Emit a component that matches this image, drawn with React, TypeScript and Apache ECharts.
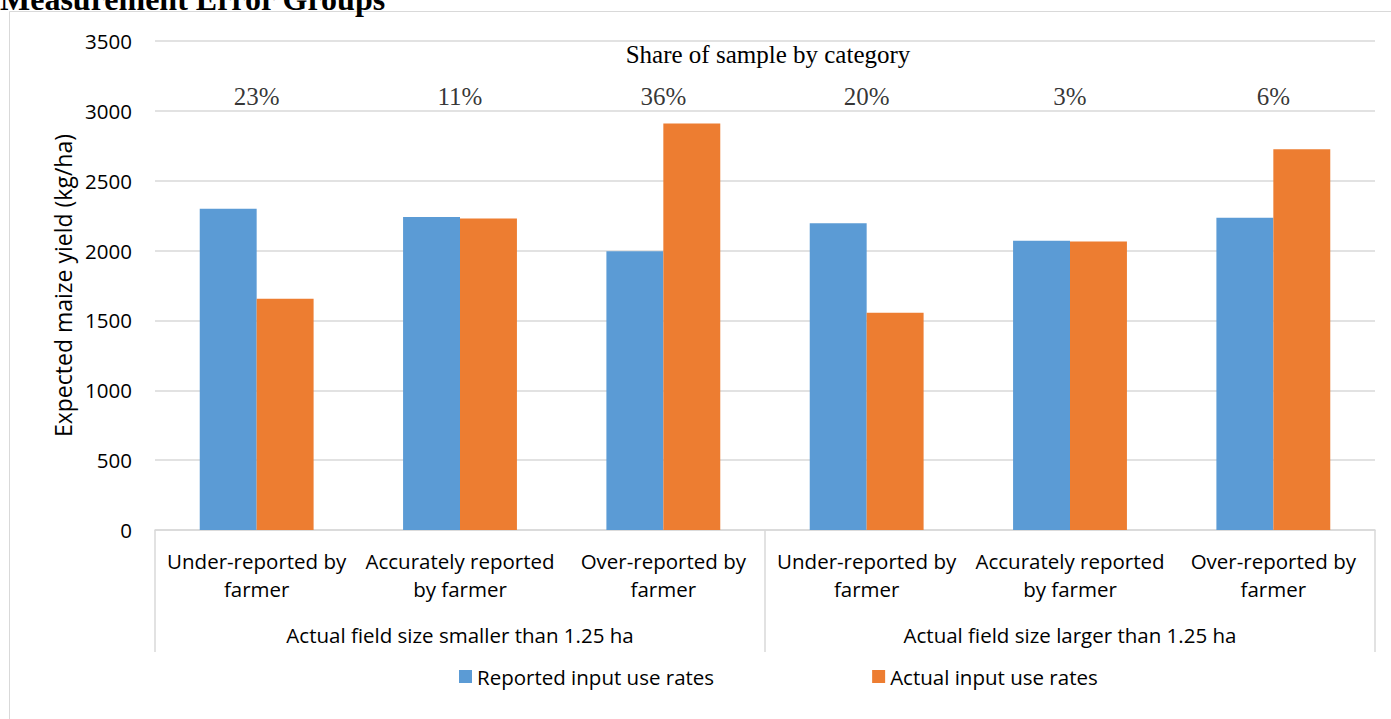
import React, { useEffect, useRef } from "react";
import * as echarts from "echarts";

const categories = [
  "Under-reported by\nfarmer",
  "Accurately reported\nby farmer",
  "Over-reported by\nfarmer",
  "Under-reported by\nfarmer",
  "Accurately reported\nby farmer",
  "Over-reported by\nfarmer",
];
const groups = [
  "Actual field size smaller than 1.25 ha",
  "Actual field size larger than 1.25 ha",
];
const reported = [2300, 2240, 1995, 2195, 2070, 2235];
const actual = [1655, 2230, 2910, 1555, 2065, 2725];
const shares = ["23%", "11%", "36%", "20%", "3%", "6%"];
const shareLevel = 3100;
const yTicks = { min: 0, max: 3500, interval: 500 };

const SANS = "'Open Sans', 'Liberation Sans', sans-serif";
const SERIF = "'Liberation Serif', 'DejaVu Serif', serif";

export default function App() {
  const ref = useRef<HTMLDivElement>(null);
  useEffect(() => {
    if (!ref.current) return;
    const chart = echarts.init(ref.current, undefined, { renderer: "svg" });
    chart.setOption({
      animation: false,
      backgroundColor: "#fff",
      grid: { left: 155, right: 16, top: 41, bottom: 189 },
      graphic: [
        {
          type: "rect",
          shape: { x: 9.5, y: 11.5, width: 1400, height: 720 },
          style: { fill: "none", stroke: "#d9d9d9", lineWidth: 1 },
          silent: true,
        },
        {
          type: "text",
          x: 0,
          y: 15,
          style: {
            text: "Measurement Error Groups",
            font: `bold 32px ${SERIF}`,
            fill: "#000",
            textVerticalAlign: "bottom",
          },
        },
        {
          type: "text",
          x: 768,
          y: 54,
          style: {
            text: "Share of sample by category",
            font: `25px ${SERIF}`,
            fill: "#000",
            textAlign: "center",
            textVerticalAlign: "middle",
          },
        },
      ],
      legend: {
        data: ["Reported input use rates", "Actual input use rates"],
        left: 454,
        top: 661,
        itemWidth: 13,
        itemHeight: 13,
        itemGap: 158,
        icon: "rect",
        textStyle: { fontFamily: SANS, fontSize: 20.5, color: "#000" },
      },
      xAxis: [
        {
          type: "category",
          data: categories,
          position: "bottom",
          axisLine: { show: true, lineStyle: { color: "#d9d9d9", width: 1.5 } },
          axisTick: { show: false },
          axisLabel: {
            fontFamily: SANS,
            fontSize: 20.5,
            color: "#000",
            lineHeight: 28,
            margin: 17,
            interval: 0,
          },
        },
        {
          type: "category",
          data: groups,
          position: "bottom",
          axisLine: { show: false },
          axisTick: { show: true, length: 122, lineStyle: { color: "#d9d9d9", width: 1.5 } },
          axisLabel: {
            fontFamily: SANS,
            fontSize: 20.5,
            color: "#000",
            lineHeight: 28,
            margin: 91,
            interval: 0,
          },
        },
      ],
      yAxis: {
        type: "value",
        min: yTicks.min,
        max: yTicks.max,
        interval: yTicks.interval,
        name: "Expected maize yield (kg/ha)",
        nameLocation: "middle",
        nameGap: 80,
        nameTextStyle: { fontFamily: SANS, fontSize: 23, color: "#000" },
        axisLine: { show: false },
        axisTick: { show: false },
        axisLabel: {
          fontFamily: SANS,
          fontSize: 20.5,
          color: "#000",
          margin: 23,
          formatter: (v: number) => String(v),
        },
        splitLine: { lineStyle: { color: "#d9d9d9", width: 1.5 } },
      },
      series: [
        {
          name: "Reported input use rates",
          type: "bar",
          data: reported,
          itemStyle: { color: "#5B9BD5" },
          barGap: "0%",
          barCategoryGap: "44%",
        },
        {
          name: "Actual input use rates",
          type: "bar",
          data: actual,
          itemStyle: { color: "#ED7D31" },
          barGap: "0%",
          barCategoryGap: "44%",
        },
        {
          name: "shares",
          type: "scatter",
          symbolSize: 0,
          data: shares.map((s, i) => [i, shareLevel]),
          label: {
            show: true,
            position: "inside",
            formatter: (p: any) => shares[p.dataIndex],
            fontFamily: SERIF,
            fontSize: 25,
            color: "#000",
          },
          silent: true,
        },
      ],
    });
    return () => chart.dispose();
  }, []);
  return (
    <div
      ref={ref}
      style={{ position: "absolute", left: 0, top: 0, width: 1391, height: 719 }}
    />
  );
}
